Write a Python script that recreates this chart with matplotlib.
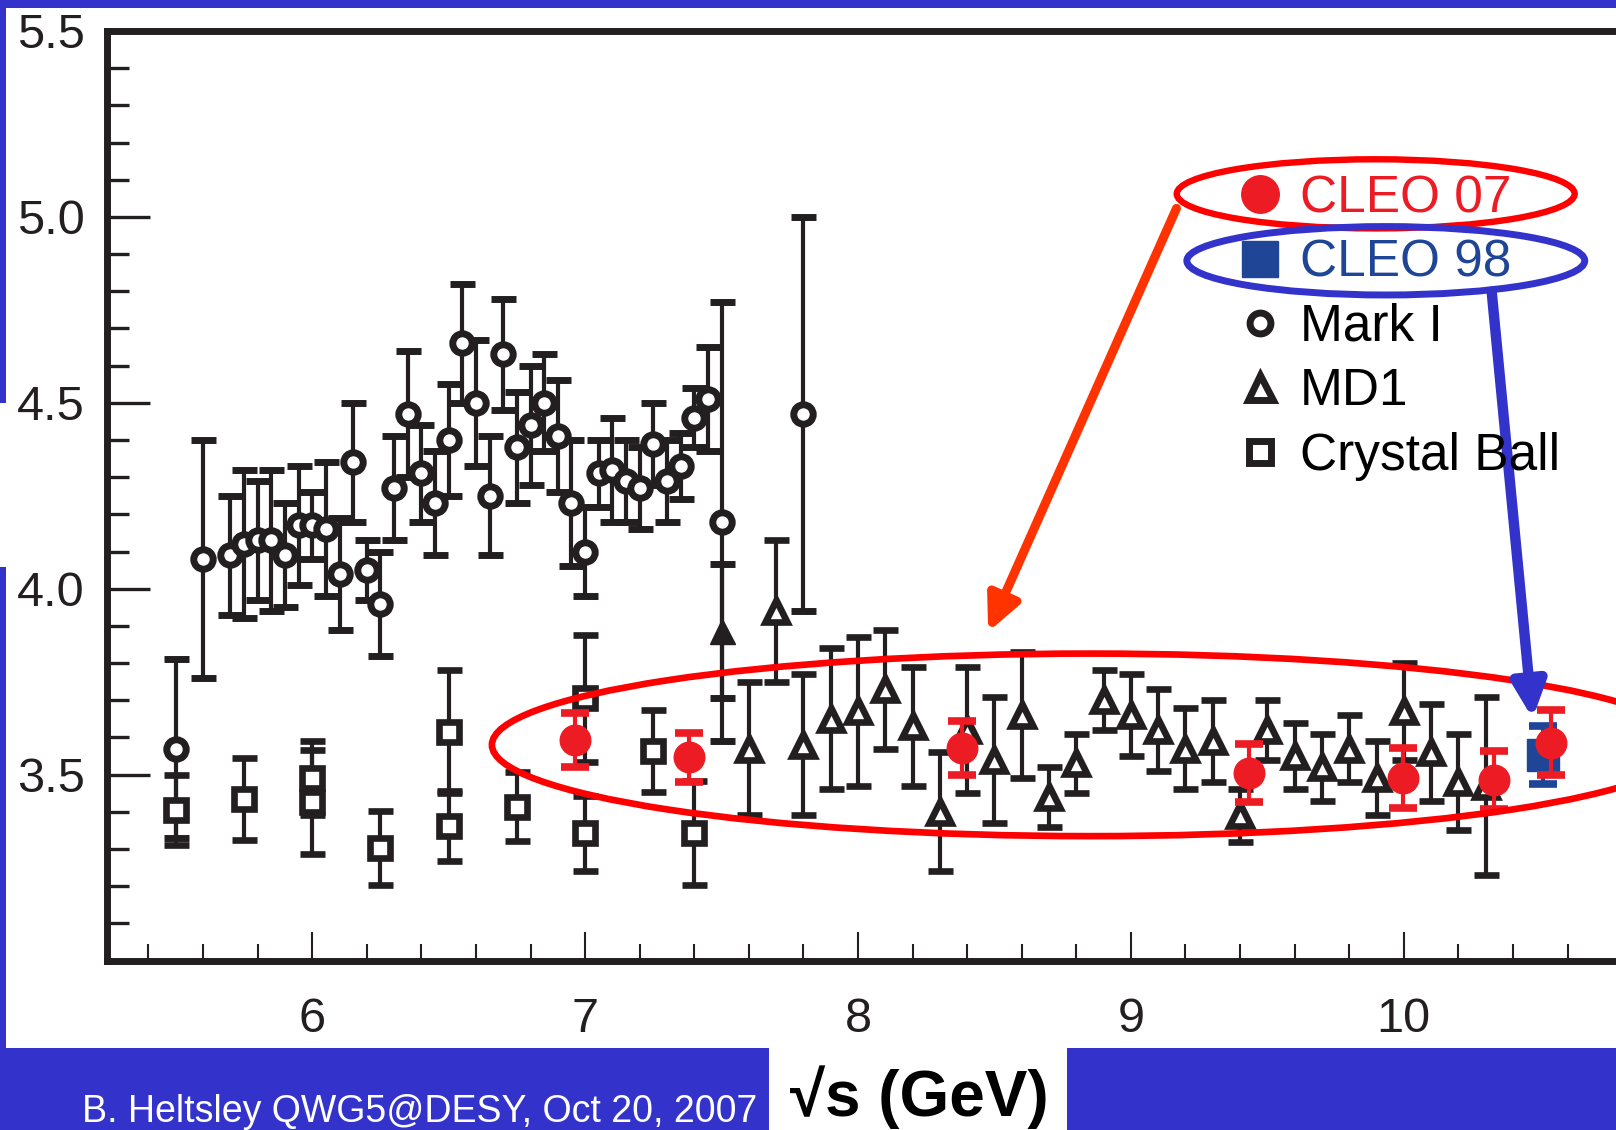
import matplotlib
matplotlib.use("Agg")
import matplotlib.pyplot as plt
from matplotlib.patches import Ellipse, Rectangle
from matplotlib.lines import Line2D
from matplotlib.ticker import MultipleLocator, FixedLocator, FormatStrFormatter

plt.rcParams['font.family'] = ['Liberation Sans', 'DejaVu Sans']

# R values (sqrt(s) in GeV, R, symmetric error)
mark1_x = [5.50, 5.60, 5.70, 5.75, 5.80, 5.85, 5.90, 5.95,
           6.00, 6.05, 6.10, 6.15, 6.20, 6.25, 6.30, 6.35, 6.40, 6.45,
           6.50, 6.55, 6.60, 6.65, 6.70, 6.75, 6.80, 6.85, 6.90, 6.95,
           7.00, 7.05, 7.10, 7.15, 7.20, 7.25, 7.30, 7.35, 7.40, 7.45,
           7.50, 7.80]
mark1_r = [3.57, 4.08, 4.09, 4.12, 4.13, 4.13, 4.09, 4.17,
           4.17, 4.16, 4.04, 4.34, 4.05, 3.96, 4.27, 4.47, 4.31, 4.23,
           4.40, 4.66, 4.50, 4.25, 4.63, 4.38, 4.44, 4.50, 4.41, 4.23,
           4.10, 4.31, 4.32, 4.29, 4.27, 4.39, 4.29, 4.33, 4.46, 4.51,
           4.18, 4.47]
mark1_e = [0.24, 0.32, 0.16, 0.20, 0.16, 0.19, 0.14, 0.16,
           0.09, 0.18, 0.15, 0.16, 0.08, 0.14, 0.14, 0.17, 0.13, 0.14,
           0.15, 0.16, 0.17, 0.16, 0.15, 0.15, 0.16, 0.13, 0.15, 0.17,
           0.12, 0.09, 0.14, 0.11, 0.11, 0.11, 0.11, 0.09, 0.08, 0.14,
           0.59, 0.53]

md1_x = [7.60, 7.70, 7.80, 7.90, 8.00, 8.10, 8.20, 8.30, 8.40, 8.50,
         8.60, 8.70, 8.80, 8.90, 9.00, 9.10, 9.20, 9.30, 9.40, 9.50,
         9.60, 9.70, 9.80, 9.90, 10.00, 10.10, 10.20, 10.30]
md1_r = [3.57, 3.94, 3.58, 3.65, 3.67, 3.73, 3.63, 3.40, 3.62, 3.54,
         3.66, 3.44, 3.53, 3.70, 3.66, 3.62, 3.57, 3.59, 3.39, 3.62,
         3.55, 3.52, 3.57, 3.49, 3.67, 3.56, 3.48, 3.47]
md1_e = [0.18, 0.19, 0.19, 0.19, 0.20, 0.16, 0.16, 0.16, 0.17, 0.17,
         0.17, 0.08, 0.08, 0.08, 0.11, 0.11, 0.11, 0.11, 0.07, 0.08,
         0.09, 0.09, 0.09, 0.10, 0.13, 0.13, 0.13, 0.24]

# the single filled triangle
md1f_x = [7.50]
md1f_r = [3.886]
md1f_e = [0.18]

cb_x = [5.50, 5.75, 6.00, 6.00, 6.25, 6.50, 6.50, 6.75, 7.00, 7.00, 7.25, 7.40]
cb_r = [3.405, 3.434, 3.490, 3.427, 3.302, 3.615, 3.362, 3.414, 3.705, 3.342, 3.563, 3.342]
cb_e = [0.095, 0.11, 0.10, 0.14, 0.10, 0.165, 0.095, 0.092, 0.17, 0.10, 0.11, 0.14]

cleo07_x = [6.963, 7.380, 8.380, 9.432, 9.998, 10.330, 10.538]
cleo07_r = [3.593, 3.546, 3.571, 3.503, 3.490, 3.485, 3.586]
cleo07_e = [0.072, 0.067, 0.073, 0.078, 0.081, 0.078, 0.087]

cleo98_x = [10.51]
cleo98_r = [3.553]
cleo98_e = [0.077]

x_ticks = [6, 7, 8, 9, 10]
y_ticks = [3.5, 4.0, 4.5, 5.0, 5.5]
legend_labels = ['CLEO 07', 'CLEO 98', 'Mark I', 'MD1', 'Crystal Ball']

INK = '#231f20'
RED = '#ed1c24'
BLUE = '#1f4597'
BAND = '#3333cc'

W, H = 1616, 1130
fig = plt.figure(figsize=(W / 100, H / 100), dpi=100)


def band(x0, y0, x1, y1):
    # blue slide decoration, given in pixels from the top-left corner
    fig.add_artist(Rectangle((x0 / W, 1 - y1 / H), (x1 - x0) / W, (y1 - y0) / H,
                             transform=fig.transFigure, color=BAND, lw=0, zorder=-1))


band(0, 0, W, 8)
band(0, 0, 6, 403)
band(0, 567, 6, H)
band(0, 1048, 769, H)
band(1067, 1048, W, H)

ax = fig.add_axes([107 / W, 1 - 960.5 / H, 1569.7 / W, 929.5 / H])
ax.set_xlim(5.248, 11.0)
ax.set_ylim(3.0, 5.5)

open_kw = dict(ls='none', mfc='white', mec=INK, ecolor=INK,
               elinewidth=3.0, capsize=9, capthick=5)
ax.errorbar(mark1_x, mark1_r, yerr=mark1_e, marker='o', ms=14, mew=5, zorder=3, **open_kw)
ax.errorbar(md1_x, md1_r, yerr=md1_e, marker='^', ms=16, mew=4.8, zorder=3, **open_kw)
ax.errorbar(cb_x, cb_r, yerr=cb_e, marker='s', ms=15, mew=4.8, zorder=3, **open_kw)
ax.errorbar(md1f_x, md1f_r, yerr=md1f_e, marker='^', ms=18, ls='none', mfc=INK, mec=INK,
            ecolor=INK, elinewidth=3.0, capsize=9, capthick=5, zorder=3)
ax.errorbar(cleo98_x, cleo98_r, yerr=cleo98_e, marker='s', ms=23, ls='none', mfc=BLUE,
            mec=BLUE, ecolor=BLUE, elinewidth=3.0, capsize=10, capthick=5.5, zorder=4)
ax.errorbar(cleo07_x, cleo07_r, yerr=cleo07_e, marker='o', ms=22, ls='none', mfc=RED,
            mec=RED, ecolor=RED, elinewidth=3.0, capsize=10, capthick=5.5, zorder=5)

# axes styling
for s in ['left', 'bottom', 'top']:
    ax.spines[s].set_linewidth(5)
    ax.spines[s].set_color(INK)
ax.spines['right'].set_visible(False)

ax.xaxis.set_major_locator(FixedLocator(x_ticks))
ax.xaxis.set_minor_locator(MultipleLocator(0.2))
ax.yaxis.set_major_locator(FixedLocator(y_ticks))
ax.yaxis.set_minor_locator(MultipleLocator(0.1))
ax.yaxis.set_major_formatter(FormatStrFormatter('%.1f'))
ax.tick_params(axis='x', which='major', direction='in', length=21, width=1.5, pad=26,
               labelsize=35, color=INK, labelcolor=INK, top=False)
ax.tick_params(axis='x', which='minor', direction='in', length=12, width=1.5, color=INK, top=False)
ax.tick_params(axis='y', which='major', direction='in', length=31, width=2.4, pad=16,
               labelsize=35, color=INK, labelcolor=INK, right=False)
ax.tick_params(axis='y', which='minor', direction='in', length=16, width=2.4, color=INK, right=False)

# highlight ellipses and arrows
ax.add_patch(Ellipse((8.850, 3.580), 4.383, 0.491, fill=False, ec='#ff0000', lw=4.8,
                     zorder=6, clip_on=False))
ax.add_patch(Ellipse((9.897, 5.062), 1.458, 0.186, fill=False, ec='#ff0000', lw=4.6, zorder=6))
ax.add_patch(Ellipse((9.934, 4.882), 1.458, 0.184, fill=False, ec=BAND, lw=5.0, zorder=6))
ax.annotate('', xy=(8.477, 3.884), xytext=(9.167, 5.023), annotation_clip=False, zorder=7,
            arrowprops=dict(arrowstyle='-|>,head_length=1.05,head_width=0.5', color='#ff3300',
                            lw=6.5, mutation_scale=20, shrinkA=0, shrinkB=0))
ax.annotate('', xy=(10.472, 3.651), xytext=(10.322, 4.799), annotation_clip=False, zorder=7,
            arrowprops=dict(arrowstyle='-|>,head_length=1.05,head_width=0.5', color=BAND,
                            lw=7.5, mutation_scale=20, shrinkA=0, shrinkB=0))

# legend with marker-only keys
handles = [
    Line2D([], [], ls='none', marker='o', ms=27, mfc=RED, mec=RED),
    Line2D([], [], ls='none', marker='s', ms=26, mfc=BLUE, mec=BLUE),
    Line2D([], [], ls='none', marker='o', ms=15, mfc='white', mec=INK, mew=5),
    Line2D([], [], ls='none', marker='^', ms=18, mfc='white', mec=INK, mew=5),
    Line2D([], [], ls='none', marker='s', ms=16, mfc='white', mec=INK, mew=5),
]
leg = ax.legend(handles, legend_labels, loc='upper left', bbox_to_anchor=(0.7182, 0.846),
                frameon=False, fontsize=37, handlelength=1.0, handletextpad=0.28,
                labelspacing=0.3, borderpad=0, borderaxespad=0, numpoints=1)
leg.set_zorder(8)
for t, c in zip(leg.get_texts(), [RED, BLUE, 'black', 'black', 'black']):
    t.set_color(c)

fig.text(82 / W, 1 - 1122 / H, 'B. Heltsley QWG5@DESY, Oct 20, 2007', color='white',
         fontsize=27, va='baseline', ha='left')
fig.text(919 / W, 1 - 1116 / H, '√s (GeV)', color='black', fontsize=46,
         fontweight='bold', va='baseline', ha='center')

fig.savefig('out.png', dpi=100)
